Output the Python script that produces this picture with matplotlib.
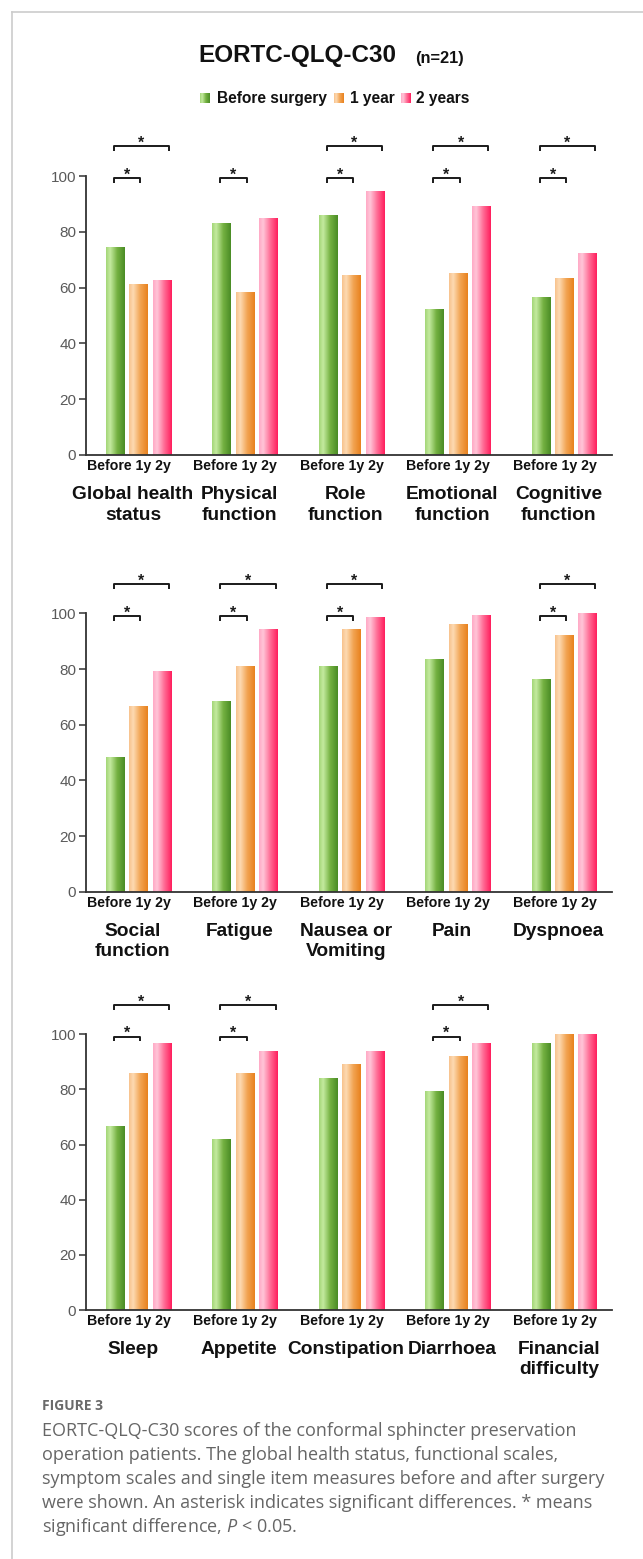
import numpy as np
import matplotlib.pyplot as plt
from matplotlib.colors import LinearSegmentedColormap

plt.rcParams['font.family'] = ['Liberation Sans', 'DejaVu Sans']
plt.rcParams['mathtext.fontset'] = 'custom'
plt.rcParams['mathtext.rm'] = 'Open Sans'
plt.rcParams['mathtext.it'] = 'Open Sans:italic'

# ---- scores (mean, 0-100) ----
series_names = ['Before surgery', '1 year', '2 years']
tick_text = 'Before 1y 2y'

functional_items = ['Global health\nstatus', 'Physical\nfunction', 'Role\nfunction',
                    'Emotional\nfunction', 'Cognitive\nfunction']
functional_before = [74.3, 83.0, 85.9, 52.2, 56.3]
functional_1y = [61.0, 58.2, 64.4, 65.1, 63.4]
functional_2y = [62.7, 84.9, 94.6, 89.0, 72.3]
functional_sig_1y = [True, True, True, True, True]
functional_sig_2y = [True, False, True, True, True]

symptom_items = ['Social\nfunction', 'Fatigue', 'Nausea or\nVomiting', 'Pain', 'Dyspnoea']
symptom_before = [48.4, 68.4, 81.0, 83.5, 76.3]
symptom_1y = [66.7, 81.2, 94.5, 96.2, 92.1]
symptom_2y = [79.3, 94.3, 98.6, 99.3, 100.0]
symptom_sig_1y = [True, True, True, False, True]
symptom_sig_2y = [True, True, True, False, True]

single_items = ['Sleep', 'Appetite', 'Constipation', 'Diarrhoea', 'Financial\ndifficulty']
single_before = [66.5, 61.8, 84.0, 79.3, 96.7]
single_1y = [85.9, 85.9, 88.9, 91.9, 100.0]
single_2y = [96.7, 93.7, 93.7, 96.7, 100.0]
single_sig_1y = [True, True, False, True, False]
single_sig_2y = [True, True, False, True, False]

# glossy horizontal gradients for each series
cmaps = [
    LinearSegmentedColormap.from_list('g', [(0, '#a3d677'), (0.22, '#c4ea9f'),
                                            (0.6, '#74b141'), (1, '#4a8c25')]),
    LinearSegmentedColormap.from_list('o', [(0, '#f8c28c'), (0.22, '#fddab2'),
                                            (0.6, '#f2a453'), (1, '#e8811d')]),
    LinearSegmentedColormap.from_list('p', [(0, '#ffa9c5'), (0.22, '#ffc5d8'),
                                            (0.6, '#ff6c95'), (1, '#ff1d5c')]),
]
GRAD = np.linspace(0, 1, 128).reshape(1, -1)

offsets = [-0.22, 0.0, 0.22]
bar_w = 0.17
XLIM = (-0.49, 4.45)


def fill_gradient(ax, x0, x1, y0, y1, cmap, zorder=2):
    ax.imshow(GRAD, cmap=cmap, extent=(x0, x1, y0, y1), aspect='auto',
              origin='lower', interpolation='bilinear', zorder=zorder)


def bracket(ax, x0, x1, y, drop=1.8):
    ax.plot([x0, x0, x1, x1], [y - drop, y, y, y - drop], color='#1a1a1a',
            lw=1.4, clip_on=False, solid_capstyle='butt')
    ax.text((x0 + x1) / 2, y - 0.6, '*', ha='center', va='baseline',
            fontsize=11.5, fontweight='bold', color='#1a1a1a')


def draw_panel(ax, labels, before, one_year, two_years, sig_1y, sig_2y):
    idx = np.arange(len(labels))
    for k, vals in enumerate([before, one_year, two_years]):
        bars = ax.bar(idx + offsets[k], vals, width=bar_w, color='none',
                      edgecolor='none')
        for rect in bars:
            x0 = rect.get_x()
            fill_gradient(ax, x0, x0 + rect.get_width(), 0, rect.get_height(), cmaps[k])

    for i in idx:
        xg, xo, xp = i + offsets[0], i + offsets[1], i + offsets[2]
        if sig_1y[i]:
            bracket(ax, xg - 0.01, xo + 0.02, 99.2)
        if sig_2y[i]:
            bracket(ax, xg - 0.01, xp + 0.07, 110.7)

    ax.set_xlim(*XLIM)
    ax.set_ylim(0, 100)
    ax.set_yticks(range(0, 101, 20))
    ax.set_xticks([])
    for side in ['top', 'right']:
        ax.spines[side].set_visible(False)
    for side in ['left', 'bottom']:
        ax.spines[side].set_color('#333333')
        ax.spines[side].set_linewidth(1.3)
    ax.tick_params(axis='y', direction='out', length=5, width=1.1, color='#333333',
                   labelcolor='#5a5a5a', labelsize=11, pad=2)

    for i, lab in enumerate(labels):
        ax.annotate(tick_text, xy=(i - 0.09, 0), xycoords=('data', 'axes fraction'),
                    xytext=(0, -7.8), textcoords='offset points', ha='center',
                    va='center', fontsize=10.2, fontweight='bold', color='#111111')
        ax.annotate(lab, xy=(i - 0.05, 0), xycoords=('data', 'axes fraction'),
                    xytext=(0, -22.5), textcoords='offset points', ha='center',
                    va='top', fontsize=13.8, fontweight='bold', color='#111111',
                    linespacing=1.25)


fig = plt.figure(figsize=(6.43, 15.59), dpi=100)

# page layer in pixel units: frame, title, legend, caption
page = fig.add_axes([0, 0, 1, 1])
page.set_xlim(0, 643)
page.set_ylim(1559, 0)
page.axis('off')
page.plot([11.5, 643], [11.5, 11.5], color='#cccccc', lw=1.2)
page.plot([11.5, 11.5], [11.5, 1559], color='#cccccc', lw=1.2)

page.text(198, 55, 'EORTC-QLQ-C30', ha='left', va='center', fontsize=17.5,
          fontweight='bold', color='#111111')
page.text(415, 58, '(n=21)', ha='left', va='center', fontsize=11.8,
          fontweight='bold', color='#111111')

legend_box_x = [200, 334, 401]
legend_text_x = [217, 350, 416]
for k, name in enumerate(series_names):
    fill_gradient(page, legend_box_x[k], legend_box_x[k] + 9.5, 102.5, 93, cmaps[k])
    page.text(legend_text_x[k], 98, name, ha='left', va='center', fontsize=11.2,
              fontweight='bold', color='#111111')
page.set_xlim(0, 643)
page.set_ylim(1559, 0)

caption_lines = [
    'EORTC-QLQ-C30 scores of the conformal sphincter preservation',
    'operation patients. The global health status, functional scales,',
    'symptom scales and single item measures before and after surgery',
    'were shown. An asterisk indicates significant differences. * means',
    'significant difference, $P$ < 0.05.',
]
page.text(41.5, 1406.5, 'FIGURE 3', ha='left', va='center', fontsize=10,
          fontweight='bold', family='Open Sans', color='#6a6a6a')
for n, line in enumerate(caption_lines):
    page.text(41.5, 1430.5 + n * 24, line, ha='left', va='center', fontsize=13.0,
              family='Open Sans', color='#666666')

left, width = 86 / 643, 526 / 643
ax1 = fig.add_axes([left, 1 - 455 / 1559, width, 279 / 1559])
ax2 = fig.add_axes([left, 1 - 891.7 / 1559, width, 278.3 / 1559])
ax3 = fig.add_axes([left, 1 - 1310 / 1559, width, 275.7 / 1559])

draw_panel(ax1, functional_items, functional_before, functional_1y, functional_2y,
           functional_sig_1y, functional_sig_2y)
draw_panel(ax2, symptom_items, symptom_before, symptom_1y, symptom_2y,
           symptom_sig_1y, symptom_sig_2y)
draw_panel(ax3, single_items, single_before, single_1y, single_2y,
           single_sig_1y, single_sig_2y)

fig.savefig('out.png', dpi=100)
